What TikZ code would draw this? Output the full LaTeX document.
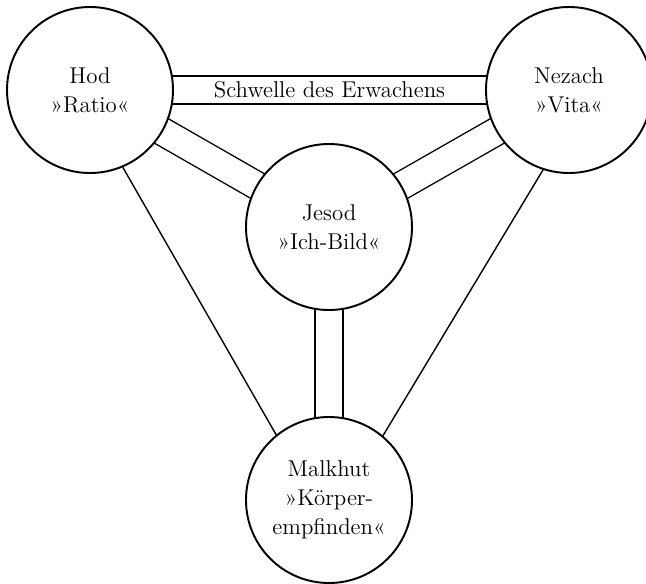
\documentclass[tikz,border=0pt]{standalone}
\usepackage{fontspec}
\usetikzlibrary{backgrounds}

\begin{document}
\begin{tikzpicture}[
  font=\fontsize{13}{16.5}\selectfont,
  sefira/.style={draw, circle, line width=1.1pt, minimum size=3.32cm, inner sep=0pt, align=center, fill=white},
  pfad/.style={line width=0.8pt},
  kanal/.style={draw, line width=0.8pt, double=white, double distance=0.532cm},
]
\useasboundingbox (0,0) rectangle (12.92,-11.68);
% die vier Sefirot
\node[sefira] (hod) at (1.8,-1.8) {Hod\\»Ratio«};
\node[sefira] (nezach) at (11.38,-1.8) {Nezach\\»Vita«};
\node[sefira] (jesod) at (6.58,-4.54) {Jesod\\»Ich-Bild«};
\node[sefira] (malkhut) at (6.58,-10.0) {Malkhut\\»Körper-\\empfinden«};
% Kanaele und Pfade
\begin{scope}[on background layer]
\draw[kanal] (hod.center) -- node {Schwelle des Erwachens} (nezach.center);
\draw[kanal] (hod.center) -- (jesod.center);
\draw[kanal] (nezach.center) -- (jesod.center);
\draw[kanal] (jesod.center) -- (malkhut.center);
\draw[pfad] (hod.-67) -- (malkhut.129);
\draw[pfad] (nezach.-108) -- (malkhut.50);
\end{scope}
\end{tikzpicture}
\end{document}
